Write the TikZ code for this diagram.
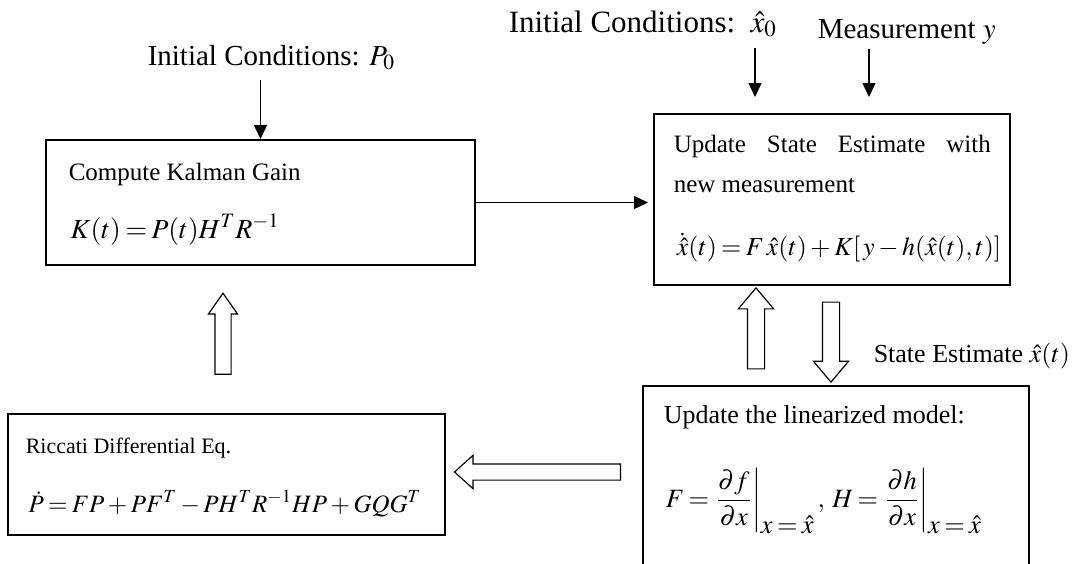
\documentclass[tikz,border=0pt]{standalone}
\usepackage{mathptmx}
\usepackage{fontspec}
\setmainfont{Liberation Serif}
\usetikzlibrary{arrows.meta,
                shapes.arrows}
\newcommand{\tighteq}{\medmuskip=2.5mu\relax\thickmuskip=3mu\relax}

\begin{document}
\begin{tikzpicture}%
    [->, >={Triangle[length=7pt, width=6.5pt]}, line width=0.75pt,
     x=0.5pt, y=-0.5pt,
     box/.style={draw, line width=1pt, inner sep=0pt},
     txt/.style={anchor=base west, inner sep=0pt, font=\fontsize{12.5}{15}\selectfont},
     eq/.style={anchor=base west, inner sep=0pt, font=\fontsize{#1}{15}\selectfont},
     lbl/.style={anchor=base west, inner xsep=0pt, inner ysep=5pt, font=\fontsize{14.5}{17}\selectfont},
     fat/.style={single arrow, draw, line width=0.6pt, inner xsep=0pt, single arrow head extend=#1}]
    \useasboundingbox (0,0) rectangle (1083,563);
    \clip (0,0) rectangle (1083,563);

    % boxes
    \node[box, minimum width=214.5pt, minimum height=62.5pt] (gain) at (260.5,202.5) {};
    \node[box, minimum width=178pt, minimum height=85.5pt] (upd) at (832,199.5) {};
    \node[box, minimum width=218.5pt, minimum height=60.5pt] (ric) at (226.5,474.5) {};
    \node[box, minimum width=193pt, minimum height=107pt] (lin) at (836,493) {};

    % box texts
    \node[txt] (gain1) at (68,180) {Compute Kalman Gain};
    \node[eq=13.8] (gain2) at (70,238) {\tighteq$K(t) = P(t)H^T R^{-1}$};
    \node[txt] (upd1) at (673,152) {\makebox[158.5pt][s]{Update State Estimate with}};
    \node[txt] (upd2) at (673,192) {new measurement};
    \node[eq=13] (upd3) at (676,255) {\tighteq$\dot{\hat{x}}(t) = F\,\hat{x}(t) + K[\,y - h(\hat{x}(t),t)]$};
    \node[txt, font=\fontsize{11}{13}\selectfont] (ric1) at (25,453) {Riccati Differential Eq.};
    \node[eq=12.5] (ric2) at (28,512) {\tighteq$\dot{P} = FP + PF^T - PH^T R^{-1} HP + GQG^T$};
    \node[txt, font=\fontsize{13}{15}\selectfont] (lin1) at (663,423) {Update the linearized model:};
    \node[eq=13.2] (lin2) at (665,507)
        {\tighteq$\displaystyle F = \left.\frac{\partial f}{\partial x}\right|_{\textstyle x=\hat{x}},\; H = \left.\frac{\partial h}{\partial x}\right|_{\textstyle x=\hat{x}}$};

    % inputs
    \node[lbl] (ic1) at (147,65) {Initial Conditions: $P_0$};
    \node[lbl, font=\fontsize{15.5}{18}\selectfont] (ic2) at (508,32) {Initial Conditions:\ \ $\hat{x}_0$};
    \node[lbl, inner ysep=2pt] (meas) at (817,38) {Measurement $y$};
    \node[lbl, inner ysep=0pt, font=\fontsize{13}{16}\selectfont] (est) at (873,362) {State Estimate $\hat{x}(t)$};
    \coordinate (x0in) at (755,97);
    \coordinate (yin) at (869,97);

    \draw (ic1.south -| gain.north) -- (gain.north);
    \draw (ic2.south -| x0in) -- (x0in);
    \draw (meas.south -| yin) -- (yin);
    \draw [shorten >=2.5pt] (gain.east) -- (gain.east -| upd.west);

    % block arrows
    \node[fat=3.25pt, inner ysep=3.75pt, single arrow tip angle=70, rotate=90, minimum height=40.5pt] (up1) at (223,339.5) {};
    \node[fat=4.25pt, inner ysep=3.75pt, single arrow tip angle=84, rotate=180, minimum height=83pt] (left) at (542,472) {};
    \node[fat=4.5pt, inner ysep=4pt, single arrow tip angle=80, rotate=90, minimum height=40.5pt] (up2) at (756,333.5) {};
    \node[fat=4.5pt, inner ysep=4pt, single arrow tip angle=80, rotate=-90, minimum height=40pt] (down) at (831,337) {};
\end{tikzpicture}
\end{document}
